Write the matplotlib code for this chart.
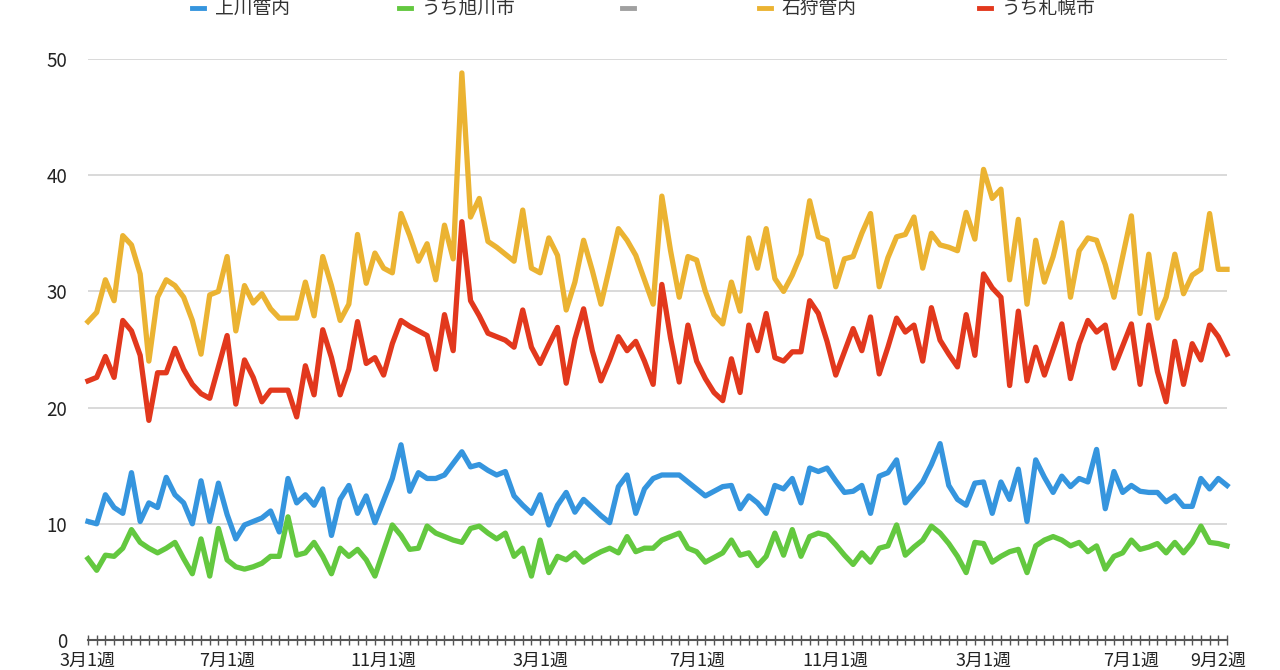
import matplotlib
matplotlib.use("Agg")
import matplotlib.pyplot as plt
from matplotlib.lines import Line2D

plt.rcParams['font.family'] = ['Noto Sans CJK JP', 'DejaVu Sans']

# 週ごとの値 (3月1週 〜 9月2週)
kamikawa = [
    10.2, 10.0, 12.5, 11.4, 10.9, 14.4, 10.2, 11.8, 11.4, 14.0,
    12.5, 11.8, 10.0, 13.7, 10.2, 13.5, 10.8, 8.7, 9.9, 10.2,
    10.5, 11.1, 9.3, 13.9, 11.8, 12.5, 11.6, 13.0, 9.0, 12.1,
    13.3, 10.9, 12.4, 10.1, 12.0, 13.9, 16.8, 12.8, 14.4, 13.9,
    13.9, 14.2, 15.2, 16.2, 14.9, 15.1, 14.6, 14.2, 14.5, 12.4,
    11.6, 10.9, 12.5, 9.9, 11.6, 12.7, 11.0, 12.1, 11.4, 10.7,
    10.1, 13.2, 14.2, 10.9, 13.0, 13.9, 14.2, 14.2, 14.2, 13.6,
    13.0, 12.4, 12.8, 13.2, 13.3, 11.3, 12.4, 11.8, 10.9, 13.3,
    13.0, 13.9, 11.8, 14.8, 14.5, 14.8, 13.7, 12.7, 12.8, 13.3,
    10.9, 14.1, 14.4, 15.5, 11.8, 12.7, 13.6, 15.1, 16.9, 13.3,
    12.1, 11.6, 13.5, 13.6, 10.9, 13.6, 12.1, 14.7, 10.2, 15.5,
    14.0, 12.7, 14.1, 13.2, 13.9, 13.6, 16.4, 11.3, 14.5, 12.7,
    13.3, 12.8, 12.7, 12.7, 11.9, 12.4, 11.5, 11.5, 13.9, 13.0,
    13.9, 13.3,
]
asahikawa = [
    7.0, 6.0, 7.3, 7.2, 7.9, 9.5, 8.4, 7.9, 7.5, 7.9,
    8.4, 7.0, 5.7, 8.7, 5.5, 9.6, 6.9, 6.3, 6.1, 6.3,
    6.6, 7.2, 7.2, 10.6, 7.3, 7.5, 8.4, 7.2, 5.7, 7.9,
    7.2, 7.8, 6.9, 5.5, 7.7, 9.9, 9.0, 7.8, 7.9, 9.8,
    9.2, 8.9, 8.6, 8.4, 9.6, 9.8, 9.2, 8.7, 9.2, 7.2,
    7.9, 5.5, 8.6, 5.8, 7.2, 6.9, 7.5, 6.7, 7.2, 7.6,
    7.9, 7.5, 8.9, 7.6, 7.9, 7.9, 8.6, 8.9, 9.2, 7.9,
    7.6, 6.7, 7.1, 7.5, 8.6, 7.3, 7.5, 6.4, 7.2, 9.2,
    7.3, 9.5, 7.2, 8.9, 9.2, 9.0, 8.2, 7.3, 6.5, 7.5,
    6.7, 7.9, 8.1, 9.9, 7.3, 8.0, 8.6, 9.8, 9.2, 8.3,
    7.2, 5.8, 8.4, 8.3, 6.7, 7.2, 7.6, 7.8, 5.8, 8.1,
    8.6, 8.9, 8.6, 8.1, 8.4, 7.6, 8.1, 6.1, 7.2, 7.5,
    8.6, 7.8, 8.0, 8.3, 7.5, 8.4, 7.5, 8.4, 9.8, 8.4,
    8.3, 8.1,
]
ishikari = [
    27.4, 28.2, 31.0, 29.2, 34.8, 34.0, 31.5, 24.0, 29.5, 31.0,
    30.5, 29.5, 27.5, 24.6, 29.7, 30.0, 33.0, 26.6, 30.5, 29.0,
    29.8, 28.5, 27.7, 27.7, 27.7, 30.8, 27.9, 33.0, 30.5, 27.5,
    28.9, 34.9, 30.7, 33.3, 32.0, 31.6, 36.7, 34.8, 32.6, 34.1,
    31.0, 35.7, 32.8, 48.8, 36.4, 38.0, 34.3, 33.8, 33.2, 32.6,
    37.0, 32.0, 31.6, 34.6, 33.1, 28.4, 30.8, 34.4, 31.8, 28.9,
    32.1, 35.4, 34.4, 33.1, 31.0, 28.9, 38.2, 33.5, 29.5, 33.0,
    32.7, 30.0, 28.0, 27.2, 30.8, 28.3, 34.6, 32.0, 35.4, 31.1,
    30.0, 31.4, 33.2, 37.8, 34.7, 34.4, 30.4, 32.8, 33.0, 35.0,
    36.7, 30.4, 32.9, 34.7, 34.9, 36.4, 32.0, 35.0, 34.0, 33.8,
    33.5, 36.8, 34.5, 40.5, 38.0, 38.8, 31.0, 36.2, 28.9, 34.4,
    30.8, 33.0, 35.9, 29.5, 33.5, 34.6, 34.4, 32.3, 29.5, 33.0,
    36.5, 28.1, 33.2, 27.7, 29.5, 33.2, 29.8, 31.4, 31.9, 36.7,
    31.9, 31.9,
]
sapporo = [
    22.3, 22.6, 24.4, 22.6, 27.5, 26.6, 24.5, 18.9, 23.0, 23.0,
    25.1, 23.3, 22.0, 21.2, 20.8, 23.5, 26.2, 20.3, 24.1, 22.6,
    20.5, 21.5, 21.5, 21.5, 19.2, 23.6, 21.1, 26.7, 24.3, 21.1,
    23.3, 27.4, 23.8, 24.3, 22.8, 25.5, 27.5, 27.0, 26.6, 26.2,
    23.3, 28.0, 24.9, 36.0, 29.2, 27.9, 26.4, 26.1, 25.8, 25.2,
    28.4, 25.2, 23.8, 25.4, 26.9, 22.1, 25.9, 28.5, 24.9, 22.3,
    24.1, 26.1, 24.9, 25.7, 24.0, 22.0, 30.6, 26.0, 22.2, 27.1,
    24.0, 22.5, 21.3, 20.6, 24.2, 21.3, 27.1, 24.9, 28.1, 24.3,
    24.0, 24.8, 24.8, 29.2, 28.1, 25.7, 22.8, 24.8, 26.8, 24.9,
    27.8, 22.9, 25.2, 27.7, 26.5, 27.1, 24.0, 28.6, 25.8, 24.6,
    23.5, 28.0, 24.5, 31.5, 30.3, 29.5, 21.9, 28.3, 22.3, 25.2,
    22.8, 25.0, 27.2, 22.5, 25.5, 27.5, 26.5, 27.1, 23.4, 25.3,
    27.2, 22.0, 27.1, 23.1, 20.5, 25.7, 22.0, 25.5, 24.1, 27.1,
    26.1, 24.6,
]

names = ['上川管内', 'うち旭川市', '', '石狩管内', 'うち札幌市']
colors = ['#3595de', '#63c83f', '#a0a0a0', '#ebb332', '#e2381d']
series = [kamikawa, asahikawa, None, ishikari, sapporo]

label_pos = [0, 16, 34, 52, 70, 86, 103, 120, 130]
label_text = ['3月1週', '7月1週', '11月1週', '3月1週', '7月1週',
              '11月1週', '3月1週', '7月1週', '9月2週']

W, H = 1280, 670
fig = plt.figure(figsize=(W / 100, H / 100), dpi=100)
ax = fig.add_axes([88 / W, 30 / H, 1139 / W, 581 / H])

n = len(kamikawa)
x = list(range(n))
for vals, c in zip(series, colors):
    if vals is None:
        continue
    ax.plot(x, vals, color=c, lw=3.8, clip_on=False, zorder=3)

ax.set_xlim(0, n - 1)
ax.set_ylim(0, 50)

ax.set_yticks(range(0, 51, 10))
ax.yaxis.grid(True, color='#d9d9d9', lw=1.4)
ax.set_axisbelow(True)
ax.tick_params(axis='y', length=0, pad=15, labelsize=13.5, labelcolor='#222222')

ticklabels = ['' for _ in x]
for p, t in zip(label_pos, label_text):
    ticklabels[p] = t
ax.set_xticks(x)
ax.set_xticklabels(ticklabels)
ax.tick_params(axis='x', direction='inout', length=7, width=1.0,
               color='#555555', pad=5, labelsize=13, labelcolor='#222222')

for s in ['top', 'right', 'left']:
    ax.spines[s].set_visible(False)
ax.spines['bottom'].set_color('#555555')
ax.spines['bottom'].set_linewidth(1.5)
ax.spines['bottom'].set_zorder(4)

# 凡例 (上部、少し切れている)
legend_x = [198, 405, 628, 765, 985]
ly = 1 - 8 / H
for name, c, lx in zip(names, colors, legend_x):
    fig.add_artist(Line2D([(lx - 6) / W, (lx + 6) / W], [ly, ly],
                          color=c, lw=3.5, transform=fig.transFigure))
    if name:
        fig.text((lx + 17) / W, ly, name, va='center', ha='left',
                 fontsize=13.5, color='#333333')

fig.savefig('out.png', dpi=100)
